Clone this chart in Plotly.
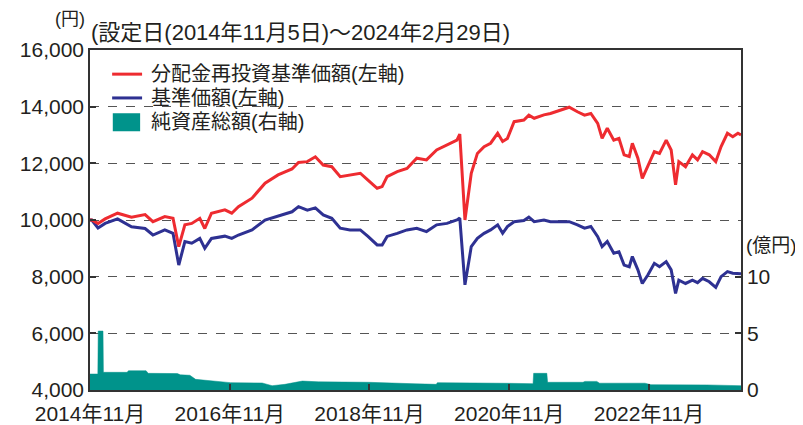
import plotly.graph_objects as go

# ---- data ----
nav_dates = [
    "2014-11-05", "2014-11-14", "2014-12-17", "2015-01-23", "2015-03-29", "2015-06-10",
    "2015-08-20", "2015-09-30", "2015-12-01", "2016-01-13", "2016-02-12", "2016-03-15",
    "2016-04-20", "2016-06-01", "2016-06-27", "2016-08-01", "2016-10-10", "2016-11-15",
    "2016-12-20", "2017-03-01", "2017-05-08", "2017-07-15", "2017-09-26", "2017-10-30",
    "2017-12-15", "2018-01-26", "2018-03-08", "2018-04-22", "2018-06-05", "2018-07-26",
    "2018-09-18", "2018-10-28", "2018-12-15", "2019-01-10", "2019-02-05", "2019-03-30",
    "2019-05-20", "2019-07-10", "2019-08-30", "2019-10-22", "2019-12-15", "2020-02-05",
    "2020-02-20", "2020-03-18", "2020-04-20", "2020-05-22", "2020-06-26", "2020-07-30",
    "2020-09-05", "2020-10-01", "2020-10-26", "2020-11-30", "2021-01-20", "2021-02-15",
    "2021-03-15", "2021-05-05", "2021-06-08", "2021-08-01", "2021-09-14", "2021-10-27",
    "2021-12-03", "2022-01-05", "2022-02-10", "2022-03-05", "2022-04-01", "2022-05-05",
    "2022-06-01", "2022-06-28", "2022-07-25", "2022-08-10", "2022-09-08", "2022-10-01",
    "2022-10-30", "2022-12-03", "2022-12-30", "2023-02-03", "2023-03-01", "2023-03-24",
    "2023-04-10", "2023-05-15", "2023-06-20", "2023-07-17", "2023-08-12", "2023-09-16",
    "2023-10-20", "2023-11-17", "2023-12-20", "2024-01-17", "2024-02-13", "2024-02-29",
]
reinvested_nav = [
    10000, 10000, 9880, 10040, 10240, 10100,
    10190, 9940, 10120, 10060, 9060, 9830,
    9880, 10060, 9700, 10240, 10360, 10240,
    10470, 10770, 11300, 11590, 11800, 12030,
    12060, 12230, 11940, 11880, 11530, 11590,
    11650, 11410, 11120, 11180, 11530, 11710,
    11820, 12180, 12120, 12470, 12650, 12820,
    13030, 10000, 11650, 12350, 12590, 12710,
    13060, 12770, 12880, 13470, 13530, 13700,
    13590, 13710, 13760, 13880, 13980, 13820,
    13700, 13760, 13410, 12880, 13240, 12820,
    12880, 12300, 12240, 12710, 12180, 11470,
    11880, 12410, 12350, 12820, 12470, 11240,
    12060, 11880, 12300, 12120, 12410, 12300,
    12060, 12590, 13060, 12940, 13060, 13000,
]
nav = [
    10000, 10000, 9720, 9880, 10040, 9760,
    9700, 9470, 9650, 9530, 8410, 9240,
    9180, 9350, 9000, 9350, 9430, 9350,
    9470, 9650, 10000, 10140, 10290, 10470,
    10350, 10430, 10180, 10060, 9710, 9650,
    9650, 9420, 9120, 9120, 9420, 9530,
    9650, 9710, 9590, 9830, 9880, 10000,
    10070, 7710, 9060, 9350, 9530, 9650,
    9830, 9530, 9770, 9940, 9980, 10100,
    9940, 10000, 9940, 9940, 9940, 9830,
    9710, 9770, 9410, 9060, 9240, 8830,
    8880, 8410, 8350, 8710, 8240, 7760,
    8060, 8470, 8350, 8530, 8240, 7410,
    7880, 7760, 7880, 7790, 7940, 7820,
    7620, 8000, 8180, 8120, 8120, 8100,
]

asset_dates = [
    "2014-11-05", "2014-12-16", "2014-12-18", "2015-01-12", "2015-01-14", "2015-05-18",
    "2015-05-25", "2015-08-25", "2015-09-05", "2016-02-05", "2016-02-20", "2016-04-10",
    "2016-05-10", "2016-09-05", "2016-11-08", "2017-04-23", "2017-06-14", "2017-08-20",
    "2017-11-19", "2018-02-11", "2018-10-30", "2019-07-01", "2019-10-20", "2019-10-26",
    "2020-03-11", "2020-03-20", "2020-10-26", "2021-03-09", "2021-03-12", "2021-05-20",
    "2021-05-24", "2021-11-25", "2021-12-05", "2022-02-05", "2022-02-20", "2022-10-15",
    "2022-11-15", "2023-09-01", "2024-01-01", "2024-02-29",
]
net_assets = [
    1.41, 1.41, 5.2, 5.2, 1.56, 1.56,
    1.70, 1.70, 1.47, 1.45, 1.34, 1.30,
    0.94, 0.74, 0.65, 0.62, 0.38, 0.50,
    0.79, 0.72, 0.68, 0.55, 0.50, 0.65,
    0.65, 0.59, 0.59, 0.56, 1.47, 1.47,
    0.68, 0.68, 0.76, 0.76, 0.60, 0.60,
    0.47, 0.45, 0.41, 0.38,
]

x_tickvals = ["2014-11-05", "2016-11-05", "2018-11-05", "2020-11-05", "2022-11-05"]
x_ticktext = ["2014年11月", "2016年11月", "2018年11月", "2020年11月", "2022年11月"]
left_ticks = [4000, 6000, 8000, 10000, 12000, 14000, 16000]
right_ticks = [0, 5, 10]
series_names = ["分配金再投資基準価額(左軸)", "基準価額(左軸)", "純資産総額(右軸)"]

RED = "#EE2B30"
BLUE = "#2E3192"
TEAL = "#00938B"
FONT = "Liberation Sans, Noto Sans CJK JP, sans-serif"
TXT = "#231F20"
AX = "#333333"

fig = go.Figure()
fig.add_trace(go.Scatter(
    x=asset_dates, y=net_assets, yaxis="y2", mode="lines",
    line=dict(color=TEAL, width=0.5), fill="tozeroy", fillcolor=TEAL,
    name=series_names[2], showlegend=False,
))
fig.add_trace(go.Scatter(
    x=nav_dates, y=nav, mode="lines", line=dict(color=BLUE, width=3),
    name=series_names[1], showlegend=False,
))
fig.add_trace(go.Scatter(
    x=nav_dates, y=reinvested_nav, mode="lines", line=dict(color=RED, width=3),
    name=series_names[0], showlegend=False,
))

# manual legend (paper coordinates of the plot area)
legend_rows = [0.929, 0.859, 0.788]
shapes = [
    dict(type="line", xref="paper", yref="paper", x0=0.034, x1=0.080,
         y0=legend_rows[0], y1=legend_rows[0], line=dict(color=RED, width=3)),
    dict(type="line", xref="paper", yref="paper", x0=0.034, x1=0.080,
         y0=legend_rows[1], y1=legend_rows[1], line=dict(color=BLUE, width=3)),
    dict(type="rect", xref="paper", yref="paper", x0=0.035, x1=0.077,
         y0=legend_rows[2] - 0.027, y1=legend_rows[2] + 0.026,
         line=dict(width=0), fillcolor=TEAL),
]
annotations = [
    dict(text=series_names[i], xref="paper", yref="paper", x=0.091, y=legend_rows[i],
         xanchor="left", yanchor="middle", showarrow=False,
         font=dict(size=20, family=FONT, color=TXT))
    for i in range(3)
]
annotations += [
    dict(text="(円)", xref="paper", yref="paper", x=-0.004, y=1.0, yshift=31,
         xanchor="right", yanchor="middle", showarrow=False,
         font=dict(size=18, family=FONT, color=TXT)),
    dict(text="(設定日(2014年11月5日)～2024年2月29日)", xref="paper", yref="paper",
         x=-0.001, y=1.0, yshift=18, xanchor="left", yanchor="middle", showarrow=False,
         font=dict(size=22, family=FONT, color=TXT)),
    dict(text="(億円)", xref="paper", yref="paper", x=1.005, y=0.426,
         xanchor="left", yanchor="middle", showarrow=False,
         font=dict(size=19, family=FONT, color=TXT)),
]

fig.update_layout(
    width=795, height=417,
    margin=dict(l=82, r=62, t=42, b=35, autoexpand=False),
    paper_bgcolor="white", plot_bgcolor="white",
    font=dict(family=FONT, color=TXT, size=21),
    showlegend=False,
    shapes=shapes,
    annotations=annotations,
    xaxis=dict(
        type="date", range=["2014-11-05", "2024-02-29"],
        tickvals=x_tickvals, ticktext=x_ticktext, automargin=False,
        ticks="inside", ticklen=6, tickcolor=AX, tickwidth=1.5,
        showline=True, linecolor=AX, linewidth=1.5, mirror=True,
        showgrid=False, zeroline=False, ticklabelstandoff=4,
        tickfont=dict(size=21, family=FONT),
    ),
    yaxis=dict(
        range=[4000, 16000], tickvals=left_ticks, tickformat=",", automargin=False,
        ticks="inside", ticklen=6, tickcolor=AX, tickwidth=1.5,
        showline=True, linecolor=AX, linewidth=1.5,
        showgrid=True, gridcolor="#555", griddash="dash", gridwidth=1,
        zeroline=False, tickfont=dict(size=21, family=FONT),
    ),
    yaxis2=dict(
        range=[0, 30], tickvals=right_ticks, overlaying="y", side="right",
        automargin=False,
        ticks="inside", ticklen=6, tickcolor=AX, tickwidth=1.5,
        showline=True, linecolor=AX, linewidth=1.5,
        showgrid=False, zeroline=False, tickfont=dict(size=21, family=FONT),
    ),
)

fig.write_html("out.html")
